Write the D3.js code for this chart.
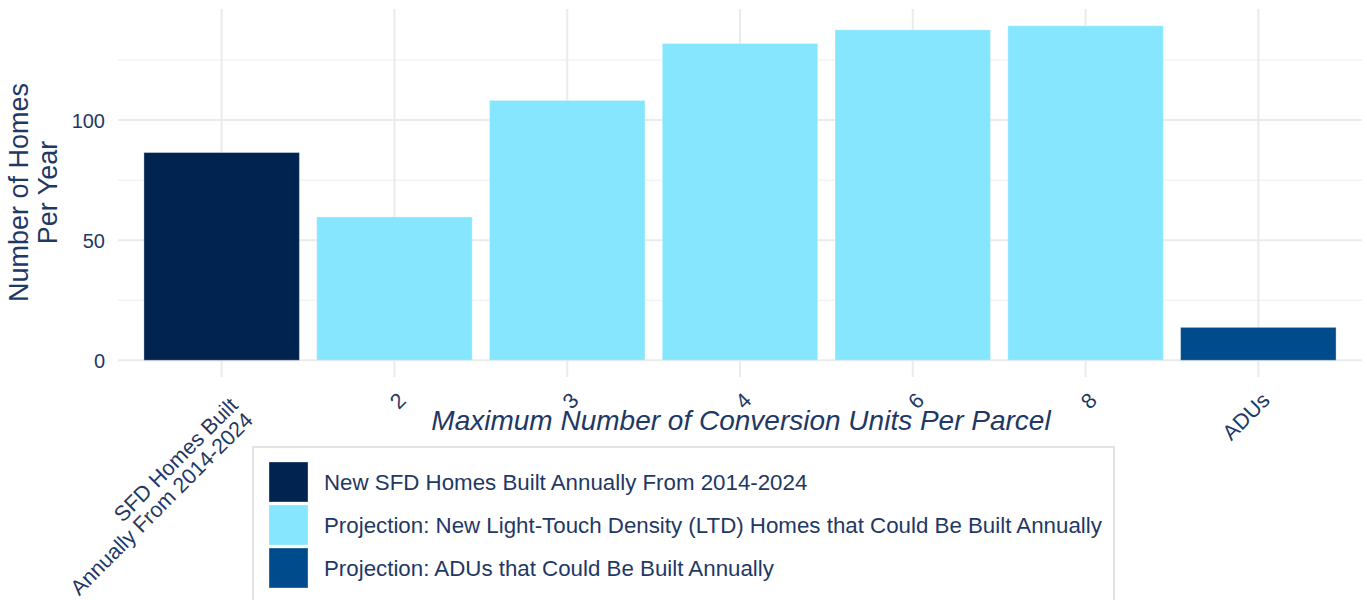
<!DOCTYPE html>
<html>
<head>
<meta charset="utf-8">
<script src="https://cdn.jsdelivr.net/npm/d3@7"></script>
<style>
  html, body { margin: 0; padding: 0; background: #ffffff; }
  svg { display: block; font-family: "Liberation Sans", Arial, sans-serif; }
</style>
</head>
<body>
<svg id="chart" width="1367" height="600"></svg>
<script>
// ---- Data ----
const categories = ["SFD Homes Built\nAnnually From 2014-2024", "2", "3", "4", "6", "8", "ADUs"];
const values = [86.5, 59.7, 108.2, 131.9, 137.6, 139.3, 13.7];
const groups = ["sfd", "ltd", "ltd", "ltd", "ltd", "ltd", "adu"];
const legendKeys = ["sfd", "ltd", "adu"];
const legendLabels = [
  "New SFD Homes Built Annually From 2014-2024",
  "Projection: New Light-Touch Density (LTD) Homes that Could Be Built Annually",
  "Projection: ADUs that Could Be Built Annually"
];
const groupColors = ["#002350", "#86E6FE", "#004B8C"];
const yMajorTicks = [0, 50, 100];
const yMinorTicks = [25, 75, 125];
const yTitleLines = ["Number of Homes", "Per Year"];
const xTitle = "Maximum Number of Conversion Units Per Parcel";

// ---- Layout ----
const textColor = "#1f3864";
const panel = { left: 118, right: 1362, top: 9, bottom: 377 };

const svg = d3.select("#chart");
svg.append("rect").attr("width", 1367).attr("height", 600).attr("fill", "#ffffff");

const color = d3.scaleOrdinal().domain(legendKeys).range(groupColors);

const x = d3.scalePoint()
  .domain(categories)
  .range([panel.left, panel.right])
  .padding(0.6);
const barW = x.step() * 0.9;

const yMax = d3.max(values);
const pad = yMax * 0.05;
const y = d3.scaleLinear()
  .domain([-pad, yMax + pad])
  .range([panel.bottom, panel.top]);

// ---- Gridlines ----
const grid = svg.append("g");
grid.selectAll("line.minor").data(yMinorTicks).join("line")
  .attr("x1", panel.left).attr("x2", panel.right)
  .attr("y1", d => y(d)).attr("y2", d => y(d))
  .attr("stroke", "#eeeeee").attr("stroke-width", 1);
grid.selectAll("line.major").data(yMajorTicks).join("line")
  .attr("x1", panel.left).attr("x2", panel.right)
  .attr("y1", d => y(d)).attr("y2", d => y(d))
  .attr("stroke", "#ebebeb").attr("stroke-width", 2);
grid.selectAll("line.vert").data(categories).join("line")
  .attr("x1", d => x(d)).attr("x2", d => x(d))
  .attr("y1", panel.top).attr("y2", panel.bottom)
  .attr("stroke", "#ebebeb").attr("stroke-width", 2);

// ---- Bars ----
svg.append("g").selectAll("rect").data(categories).join("rect")
  .attr("x", d => x(d) - barW / 2)
  .attr("width", barW)
  .attr("y", (d, i) => y(values[i]))
  .attr("height", (d, i) => y(0) - y(values[i]))
  .attr("fill", (d, i) => color(groups[i]))
  .attr("stroke", "rgba(255,255,255,0.35)")
  .attr("stroke-width", 1);

// ---- Y axis labels ----
const yAxis = svg.append("g")
  .attr("transform", `translate(${panel.left - 13},0)`)
  .call(d3.axisLeft(y).tickValues(yMajorTicks).tickSize(0).tickPadding(0));
yAxis.select(".domain").remove();
yAxis.selectAll("text")
  .attr("fill", textColor)
  .attr("font-size", 20)
  .attr("font-family", "'Liberation Sans', Arial, sans-serif")
  .attr("dy", "0.36em");

// ---- X axis labels (rotated 45) ----
const xLab = svg.append("g");
categories.forEach((c, i) => {
  const lines = c.split("\n");
  const g = xLab.append("g")
    .attr("transform", `translate(${x(c)},389) rotate(-45)`);
  const t = g.append("text")
    .attr("text-anchor", "end")
    .attr("fill", textColor)
    .attr("font-size", 21.5);
  lines.forEach((ln, k) => {
    t.append("tspan")
      .attr("x", 0)
      .attr("y", 18 + (lines.length - 1) * 7 + k * 21)
      .text(ln);
  });
});

// ---- Axis titles ----
svg.append("text")
  .attr("x", (panel.left + panel.right) / 2 + 1)
  .attr("y", 430)
  .attr("text-anchor", "middle")
  .attr("font-style", "italic")
  .attr("font-size", 28)
  .attr("fill", textColor)
  .text(xTitle);

const yt = svg.append("text")
  .attr("transform", "translate(0,192.5) rotate(-90)")
  .attr("text-anchor", "middle")
  .attr("font-size", 27)
  .attr("fill", textColor);
yTitleLines.forEach((ln, k) => {
  yt.append("tspan").attr("x", 0).attr("y", 28.3 + k * 28.3).text(ln);
});

// ---- Legend ----
const lg = svg.append("g");
lg.append("rect")
  .attr("x", 253).attr("y", 447)
  .attr("width", 861).attr("height", 160)
  .attr("fill", "#ffffff")
  .attr("stroke", "#e3e3e3").attr("stroke-width", 2);
legendKeys.forEach((k, i) => {
  const ky = 462 + i * 43;
  lg.append("rect")
    .attr("x", 269).attr("y", ky)
    .attr("width", 39).attr("height", 40)
    .attr("fill", color(k))
    .attr("stroke", "rgba(255,255,255,0.35)").attr("stroke-width", 1);
  lg.append("text")
    .attr("x", 324).attr("y", ky + 20)
    .attr("dy", "0.36em")
    .attr("font-size", 22.3)
    .attr("fill", textColor)
    .text(legendLabels[i]);
});
</script>
</body>
</html>
